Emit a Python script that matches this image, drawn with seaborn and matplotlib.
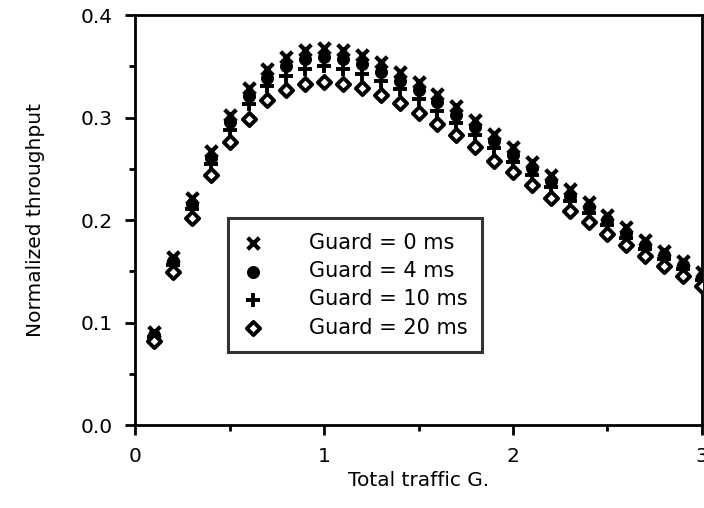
import pandas as pd
import matplotlib
matplotlib.use("Agg")
import matplotlib.pyplot as plt
import seaborn as sns
from matplotlib.ticker import MultipleLocator

sns.set_style("white")
plt.rcParams['font.family'] = ['DejaVu Sans']
plt.rcParams['text.color'] = 'black'
plt.rcParams['axes.labelcolor'] = 'black'
plt.rcParams['xtick.color'] = 'black'
plt.rcParams['ytick.color'] = 'black'

# ---- data ----
traffic = [0.1, 0.2, 0.3, 0.4, 0.5, 0.6, 0.7, 0.8, 0.9, 1.0,
           1.1, 1.2, 1.3, 1.4, 1.5, 1.6, 1.7, 1.8, 1.9, 2.0,
           2.1, 2.2, 2.3, 2.4, 2.5, 2.6, 2.7, 2.8, 2.9, 3.0]
guard_0 = [0.091, 0.164, 0.222, 0.268, 0.303, 0.329, 0.348, 0.359, 0.366, 0.368,
           0.366, 0.361, 0.354, 0.345, 0.335, 0.323, 0.311, 0.298, 0.284, 0.271,
           0.257, 0.244, 0.230, 0.218, 0.205, 0.193, 0.181, 0.170, 0.160, 0.149]
guard_4 = [0.088, 0.160, 0.216, 0.261, 0.296, 0.321, 0.339, 0.350, 0.357, 0.359,
           0.357, 0.352, 0.345, 0.336, 0.327, 0.315, 0.303, 0.291, 0.277, 0.264,
           0.251, 0.238, 0.224, 0.213, 0.200, 0.188, 0.176, 0.166, 0.156, 0.145]
guard_10 = [0.086, 0.156, 0.211, 0.255, 0.288, 0.313, 0.331, 0.341, 0.348, 0.350,
            0.348, 0.343, 0.336, 0.328, 0.318, 0.307, 0.295, 0.283, 0.270, 0.257,
            0.244, 0.232, 0.219, 0.207, 0.195, 0.183, 0.172, 0.162, 0.152, 0.142]
guard_20 = [0.082, 0.149, 0.202, 0.244, 0.276, 0.299, 0.317, 0.327, 0.333, 0.335,
            0.333, 0.329, 0.322, 0.314, 0.305, 0.294, 0.283, 0.271, 0.258, 0.247,
            0.234, 0.222, 0.209, 0.198, 0.187, 0.176, 0.165, 0.155, 0.146, 0.136]
labels = ["Guard = 0 ms", "Guard = 4 ms", "Guard = 10 ms", "Guard = 20 ms"]

# marker styles per series
styles = [
    dict(marker='x', s=70, color='black', linewidth=3.0),
    dict(marker='o', s=75, color='black', edgecolor='black'),
    dict(marker='+', s=95, color='black', linewidth=2.8),
    dict(marker='D', s=45, facecolor='white', edgecolor='black', linewidth=2.8),
]

fig = plt.figure(figsize=(7.04, 5.08), dpi=100)
ax = fig.add_axes([0.192, 0.163, 0.805, 0.807])

for vals, lab, st in zip([guard_0, guard_4, guard_10, guard_20], labels, styles):
    df = pd.DataFrame({'G': traffic, 'S': vals})
    sns.scatterplot(data=df, x='G', y='S', ax=ax, label=lab, zorder=3, **st)

ax.set_xlim(0, 3)
ax.set_ylim(0, 0.4)
ax.xaxis.set_minor_locator(MultipleLocator(0.5))
ax.yaxis.set_minor_locator(MultipleLocator(0.05))
ax.set_xticks([0, 1, 2, 3])
ax.set_xticklabels(['0', '1', '2', '3'])
ax.set_yticks([0.0, 0.1, 0.2, 0.3, 0.4])
ax.set_yticklabels(['0.0', '0.1', '0.2', '0.3', '0.4'])
ax.tick_params(which='major', direction='out', length=7, width=2, labelsize=14.5, pad=9)
ax.tick_params(which='minor', direction='out', length=4, width=2)
ax.tick_params(axis='x', which='both', bottom=True)
ax.tick_params(axis='y', which='both', left=True)

for sp in ax.spines.values():
    sp.set_linewidth(2)
    sp.set_color('black')

ax.set_xlabel('Total traffic G.', fontsize=14.5, labelpad=3)
ax.set_ylabel('Normalized throughput', fontsize=14.5, labelpad=26)

leg = ax.legend(loc='upper left', bbox_to_anchor=(0.163, 0.505), frameon=True,
                fancybox=False, edgecolor='black', fontsize=15, handletextpad=2.2,
                borderpad=0.7, labelspacing=0.4, handlelength=1.0,
                borderaxespad=0)
leg.get_frame().set_linewidth(2.2)

fig.savefig('out.png', dpi=100)
